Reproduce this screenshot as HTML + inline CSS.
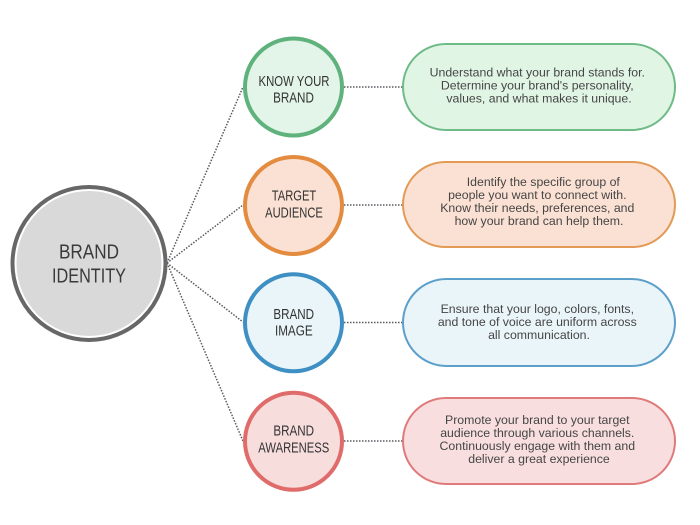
<!DOCTYPE html>
<html>
<head>
<meta charset="utf-8">
<style>
  html, body { margin: 0; padding: 0; background: #ffffff; }
  body { width: 700px; height: 525px; overflow: hidden; }
  svg { display: block; }
  .lbl { font-family: "Liberation Sans", sans-serif; font-size: 14.5px; fill: #333333; }
  .big { font-family: "Liberation Sans", sans-serif; font-size: 20px; fill: #3a3a3a; }
  .desc { font-family: "Liberation Sans", sans-serif; font-size: 12.3px; fill: #454545; }
</style>
</head>
<body>
<svg width="700" height="525" viewBox="0 0 700 525" xmlns="http://www.w3.org/2000/svg">
  <rect x="0" y="0" width="700" height="525" fill="#ffffff"/>

  <!-- diagonal connectors -->
  <g stroke="#555a60" stroke-width="1.5" stroke-dasharray="1.5 1.5" fill="none">
    <line x1="167" y1="263" x2="243" y2="87"/>
    <line x1="167" y1="263" x2="243" y2="205"/>
    <line x1="167" y1="263" x2="243" y2="322"/>
    <line x1="167" y1="263" x2="243" y2="441"/>
    <!-- horizontal connectors -->
    <line x1="344" y1="87" x2="402" y2="87"/>
    <line x1="344" y1="205" x2="402" y2="205"/>
    <line x1="344" y1="322.5" x2="402" y2="322.5"/>
    <line x1="344" y1="441" x2="402" y2="441"/>
  </g>

  <!-- central circle -->
  <circle cx="89" cy="263.5" r="76.5" fill="#ffffff" stroke="#676767" stroke-width="4"/>
  <circle cx="89" cy="263.5" r="72.5" fill="#d9d9d9"/>
  <text class="big" x="89" y="258.5" text-anchor="middle" textLength="60" lengthAdjust="spacingAndGlyphs">BRAND</text>
  <text class="big" x="89" y="282.5" text-anchor="middle" textLength="74" lengthAdjust="spacingAndGlyphs">IDENTITY</text>

  <!-- small circles -->
  <circle cx="293.5" cy="87" r="48.5" fill="#e3f5e8" stroke="#5fb27c" stroke-width="4"/>
  <text class="lbl" x="294" y="86" text-anchor="middle" textLength="71" lengthAdjust="spacingAndGlyphs">KNOW YOUR</text>
  <text class="lbl" x="293.5" y="102.7" text-anchor="middle" textLength="40.7" lengthAdjust="spacingAndGlyphs">BRAND</text>

  <circle cx="293.5" cy="205.5" r="48.5" fill="#fbe1d3" stroke="#e38b3f" stroke-width="4"/>
  <text class="lbl" x="294" y="200.7" text-anchor="middle" textLength="44.5" lengthAdjust="spacingAndGlyphs">TARGET</text>
  <text class="lbl" x="294" y="217.7" text-anchor="middle" textLength="57.7" lengthAdjust="spacingAndGlyphs">AUDIENCE</text>

  <circle cx="293.5" cy="322.8" r="48.5" fill="#e9f5f9" stroke="#3e8fc3" stroke-width="4"/>
  <text class="lbl" x="293.7" y="319" text-anchor="middle" textLength="40.7" lengthAdjust="spacingAndGlyphs">BRAND</text>
  <text class="lbl" x="293.8" y="335.7" text-anchor="middle" textLength="37.7" lengthAdjust="spacingAndGlyphs">IMAGE</text>

  <circle cx="293.5" cy="441.3" r="48.5" fill="#f8dddd" stroke="#e06b6b" stroke-width="4"/>
  <text class="lbl" x="293.7" y="435.7" text-anchor="middle" textLength="40.7" lengthAdjust="spacingAndGlyphs">BRAND</text>
  <text class="lbl" x="293.8" y="452.7" text-anchor="middle" textLength="71" lengthAdjust="spacingAndGlyphs">AWARENESS</text>

  <!-- pills -->
  <rect x="403" y="44" width="272" height="86" rx="43" ry="43" fill="#e1f5e5" stroke="#6fbb87" stroke-width="2"/>
  <text class="desc" text-anchor="middle">
    <tspan x="539" y="76.5">Understand what your brand stands for.</tspan>
    <tspan x="539" y="89.5">Determine your brand's personality,</tspan>
    <tspan x="539" y="102.5">values, and what makes it unique.</tspan>
  </text>

  <rect x="403" y="162" width="272" height="85" rx="42.5" ry="42.5" fill="#fbe1d3" stroke="#e39a57" stroke-width="2"/>
  <text class="desc" text-anchor="middle">
    <tspan x="545" y="186">Identify the specific group of</tspan>
    <tspan x="539" y="199">people you want to connect with.</tspan>
    <tspan x="539" y="212">Know their needs, preferences, and</tspan>
    <tspan x="539" y="225">how your brand can help them.</tspan>
  </text>

  <rect x="403" y="279" width="272" height="87" rx="43.5" ry="43.5" fill="#eaf5f9" stroke="#5c9fcb" stroke-width="2"/>
  <text class="desc" text-anchor="middle">
    <tspan x="539" y="313">Ensure that your logo, colors, fonts,</tspan>
    <tspan x="539" y="326">and tone of voice are uniform across</tspan>
    <tspan x="539" y="339">all communication.</tspan>
  </text>

  <rect x="403" y="398" width="272" height="86" rx="43" ry="43" fill="#f8dedf" stroke="#e07a7a" stroke-width="2"/>
  <text class="desc" text-anchor="middle">
    <tspan x="539" y="424">Promote your brand to your target</tspan>
    <tspan x="539" y="437">audience through various channels.</tspan>
    <tspan x="539" y="450">Continuously engage with them and</tspan>
    <tspan x="539" y="463">deliver a great experience</tspan>
  </text>
</svg>
</body>
</html>
